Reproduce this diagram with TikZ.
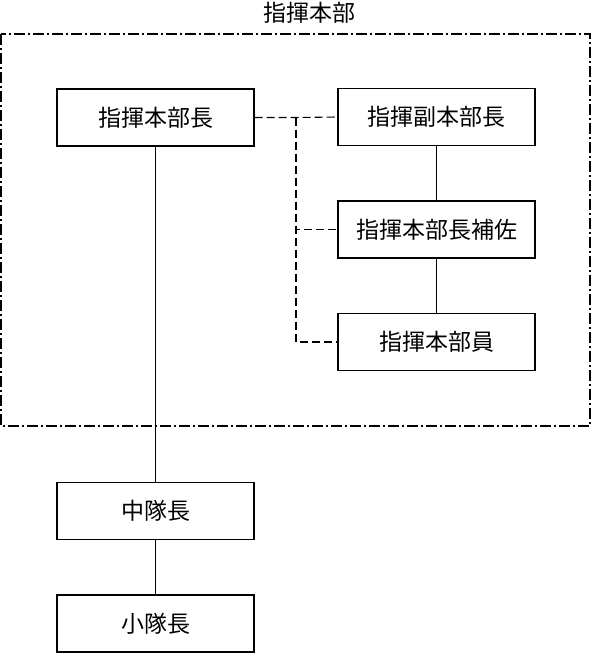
\documentclass[tikz,border=0pt]{standalone}
\usepackage{fontspec}
\newfontfamily\jp{Noto Sans CJK JP}
\begin{document}
\begin{tikzpicture}[x=1pt,y=-1pt,
  orgbox/.style={draw,line width=1.3pt,minimum width=197pt,minimum height=57pt,inner sep=0pt,font=\jp\fontsize{23}{25}\selectfont},
  solidline/.style={line width=1.1pt},
  dashline/.style={line width=1.1pt,dash pattern=on 8pt off 4pt},
  groupline/.style={line width=1.1pt,dash pattern=on 11pt off 3pt on 2pt off 3pt}]
\useasboundingbox (0,0) rectangle (593,653);
\draw[groupline] (1,34) rectangle (590,426);
\node[font=\jp\fontsize{23}{25}\selectfont] (title) at (309,13) {指揮本部};
\node[orgbox] (chief) at (155.5,117.5) {指揮本部長};
\node[orgbox] (vice) at (436.5,117) {指揮副本部長};
\node[orgbox] (asst) at (436.5,229.5) {指揮本部長補佐};
\node[orgbox] (staff) at (436.5,342) {指揮本部員};
\node[orgbox] (company) at (155.5,511) {中隊長};
\node[orgbox] (platoon) at (155.5,623.5) {小隊長};
\coordinate (j1) at (296,117.5);
\draw[dashline] (chief.east) -- (j1) -- (vice.west);
\draw[dashline] (j1) |- (asst.west);
\draw[dashline] (j1) |- (staff.west);
\draw[solidline] (vice) -- (asst);
\draw[solidline] (asst) -- (staff);
\draw[solidline] (chief) -- (company);
\draw[solidline] (company) -- (platoon);
\end{tikzpicture}
\end{document}
